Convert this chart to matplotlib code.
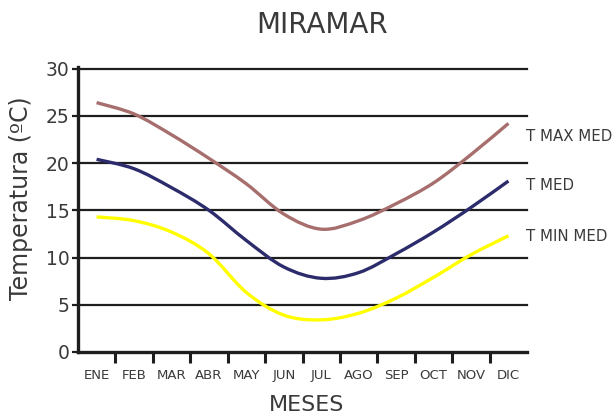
import numpy as np
import matplotlib
matplotlib.use("Agg")
import matplotlib.pyplot as plt
from matplotlib.path import Path
from matplotlib.patches import PathPatch

# ==========================================
# Data
# ==========================================
months = ["ENE", "FEB", "MAR", "ABR", "MAY", "JUN",
          "JUL", "AGO", "SEP", "OCT", "NOV", "DIC"]
t_max_med = [26.4, 25.2, 23.0, 20.5, 17.8, 14.6, 13.0, 13.9, 15.7, 17.9, 20.9, 24.2]
t_med = [20.4, 19.4, 17.4, 15.0, 11.8, 9.0, 7.8, 8.4, 10.4, 12.7, 15.3, 18.1]
t_min_med = [14.3, 13.9, 12.7, 10.4, 6.3, 3.9, 3.4, 4.1, 5.7, 7.9, 10.3, 12.3]
series_labels = ["T MAX MED", "T MED", "T MIN MED"]
y_ticks = [0, 5, 10, 15, 20, 25, 30]

COLORS = ["#a66e6c", "#2c2c6c", "#ffff00"]
TEXT = "#3a3a3a"


def smooth_path(xs, ys):
    # Catmull-Rom style bezier through the points (like a "smoothed line" chart)
    pts = np.column_stack([xs, ys]).astype(float)
    ext = np.vstack([pts[0], pts, pts[-1]])
    verts = [tuple(pts[0])]
    codes = [Path.MOVETO]
    for i in range(1, len(ext) - 2):
        p0, p1, p2, p3 = ext[i - 1], ext[i], ext[i + 1], ext[i + 2]
        c1 = p1 + (p2 - p0) / 6.0
        c2 = p2 - (p3 - p1) / 6.0
        verts += [tuple(c1), tuple(c2), tuple(p2)]
        codes += [Path.CURVE4] * 3
    return Path(verts, codes)


fig = plt.figure(figsize=(6.13, 4.20), dpi=100)
ax = fig.add_axes([0.127, 0.162, 0.733, 0.678])

x = np.arange(len(months))
for vals, col in zip([t_max_med, t_med, t_min_med], COLORS):
    patch = PathPatch(smooth_path(x, vals), fill=False, edgecolor=col,
                      linewidth=2.4, capstyle="butt", zorder=3)
    ax.add_patch(patch)

ax.set_xlim(-0.5, len(months) - 0.5)
ax.set_ylim(0, 30.15)

# gridlines
for yv in y_ticks[1:]:
    ax.axhline(yv, color="#1e1e1e", linewidth=1.6, zorder=1, clip_on=False)

# spines
for s in ["top", "right"]:
    ax.spines[s].set_visible(False)
ax.spines["left"].set_linewidth(2.4)
ax.spines["bottom"].set_linewidth(2.4)
ax.spines["left"].set_color("#1e1e1e")
ax.spines["bottom"].set_color("#1e1e1e")

# x ticks at category boundaries, labels at centers
ax.set_xticks(np.arange(0.5, len(months) - 0.5, 1.0))
ax.set_xticklabels([])
ax.tick_params(axis="x", which="major", direction="out", length=8,
               width=2.2, color="#1e1e1e")
ax.set_xticks(x, minor=True)
ax.set_xticklabels(months, minor=True, fontsize=9.5, color=TEXT)
ax.tick_params(axis="x", which="minor", length=0, pad=12)

ax.set_yticks(y_ticks)
ax.set_yticklabels([str(v) for v in y_ticks], fontsize=13.5, color=TEXT)
ax.tick_params(axis="y", direction="out", length=4, width=1.6,
               color="#1e1e1e", pad=2)

ax.set_xlabel("MESES", fontsize=16, color=TEXT)
ax.xaxis.set_label_coords(0.51, -0.15)
ax.set_ylabel("Temperatura (ºC)", fontsize=17, color=TEXT)
ax.yaxis.set_label_coords(-0.1, 0.54)
fig.text(0.525, 0.94, "MIRAMAR", ha="center", va="center",
         fontsize=20, color=TEXT)

# series labels on the right
label_y = [22.8, 17.6, 12.2]
for lab, yv in zip(series_labels, label_y):
    ax.text(len(months) - 0.5 - 0.03, yv, lab, fontsize=10.8, color=TEXT,
            ha="left", va="center", clip_on=False)

fig.savefig("out.png", dpi=100)
plt.close(fig)
